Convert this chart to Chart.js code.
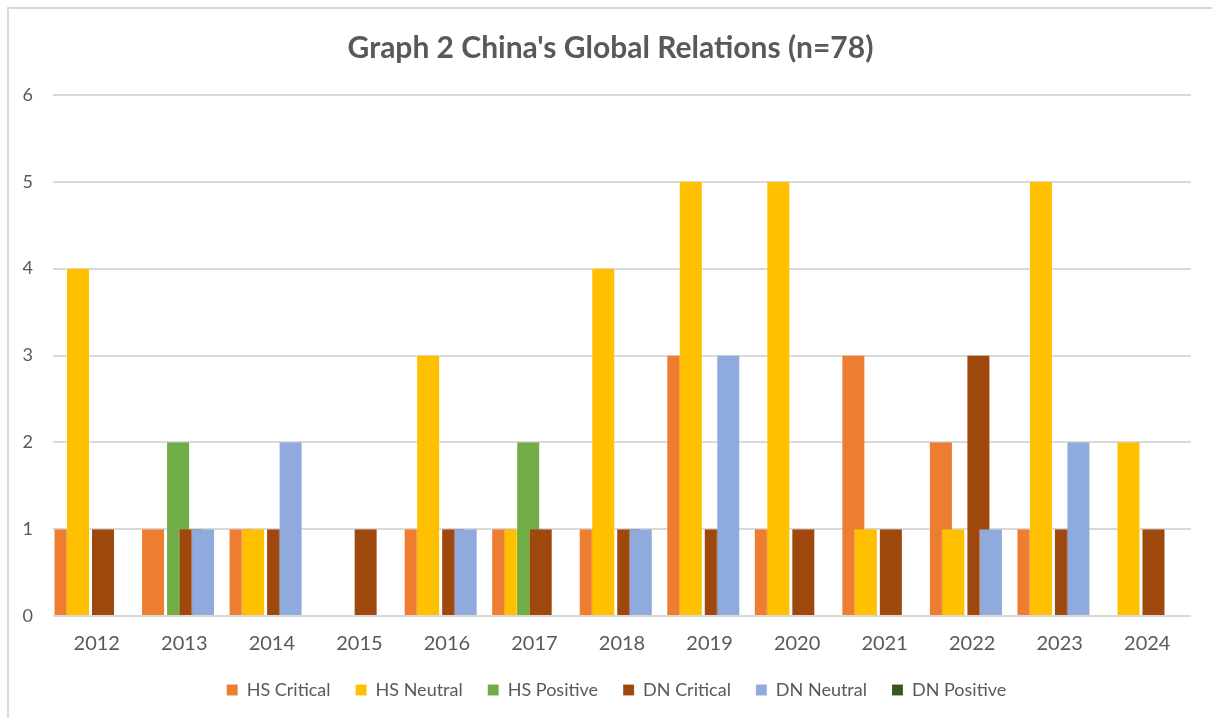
<!DOCTYPE html>
<html>
<head>
<meta charset="utf-8">
<script src="https://cdn.jsdelivr.net/npm/chart.js@4/dist/chart.umd.min.js"></script>
<style>
  html, body { margin: 0; padding: 0; background: #fff; }
  #wrap { width: 1212px; height: 718px; }
</style>
</head>
<body>
<div id="wrap"><canvas id="myChart" width="1212" height="718"></canvas></div>
<script>
// years on the x axis
const years = ['2012', '2013', '2014', '2015', '2016', '2017', '2018', '2019', '2020', '2021', '2022', '2023', '2024'];

// counts per year, one array per series
const hsCritical = [1, 1, 1, 0, 1, 1, 1, 3, 1, 3, 2, 1, 0];
const hsNeutral  = [4, 0, 1, 0, 3, 1, 4, 5, 5, 1, 1, 5, 2];
const hsPositive = [0, 2, 0, 0, 0, 2, 0, 0, 0, 0, 0, 0, 0];
const dnCritical = [1, 1, 1, 1, 1, 1, 1, 1, 1, 1, 3, 1, 1];
const dnNeutral  = [0, 1, 2, 0, 1, 0, 1, 3, 0, 0, 1, 2, 0];
const dnPositive = [0, 0, 0, 0, 0, 0, 0, 0, 0, 0, 0, 0, 0];

const yTicks = [0, 1, 2, 3, 4, 5, 6];

const grey = '#595959';
const font = 'Lato, "Open Sans", sans-serif';

function series(label, data, color) {
    return {
        label: label,
        data: data,
        backgroundColor: color,
        borderColor: 'rgba(255,255,255,0.3)',
        borderWidth: { top: 0, left: 1, right: 1, bottom: 0 },
        borderSkipped: 'bottom'
    };
}

// excel draws later series on top of earlier ones (overlapping bars)
const drawOrder = {
    id: 'drawOrder',
    beforeDatasetsDraw(chart) {
        const ctx = chart.ctx;
        const area = chart.chartArea;
        ctx.save();
        ctx.beginPath();
        ctx.rect(area.left, area.top - 2, area.right - area.left, area.bottom - area.top + 2);
        ctx.clip();
        chart.getSortedVisibleDatasetMetas().forEach(function(meta) {
            meta.controller.draw();
        });
        ctx.restore();
        return false;
    }
};

// title and legend sit centred on the whole picture, not the plot
const nudge = {
    id: 'nudge',
    afterLayout(chart) {
        chart.titleBlock.left += 15;
        chart.titleBlock.right += 15;
        chart.legend.left += 21;
        chart.legend.right += 21;
    }
};

// thin frame on the top and left, as in the screenshot
const frame = {
    id: 'frame',
    beforeDraw(chart) {
        const ctx = chart.ctx;
        ctx.save();
        ctx.fillStyle = '#fff';
        ctx.fillRect(0, 0, chart.width, chart.height);
        ctx.strokeStyle = '#d9d9d9';
        ctx.lineWidth = 2;
        ctx.beginPath();
        ctx.moveTo(8, chart.height);
        ctx.lineTo(8, 8);
        ctx.lineTo(chart.width, 8);
        ctx.stroke();
        ctx.restore();
    }
};

let ctx = document.getElementById('myChart').getContext('2d');

let myChart = new Chart(ctx, {
    type: 'bar',
    data: {
        labels: years,
        datasets: [
            series('HS Critical', hsCritical, '#ED7D31'),
            series('HS Neutral', hsNeutral, '#FFC000'),
            series('HS Positive', hsPositive, '#70AD47'),
            series('DN Critical', dnCritical, '#9E480E'),
            series('DN Neutral', dnNeutral, '#8FAADC'),
            series('DN Positive', dnPositive, '#375623')
        ]
    },
    options: {
        responsive: false,
        animation: false,
        categoryPercentage: 0.857,
        barPercentage: 1.92,
        layout: {
            padding: { left: 0, right: 21, top: 0, bottom: 9 }
        },
        plugins: {
            title: {
                display: true,
                text: "Graph 2 China's Global Relations (n=78)",
                color: grey,
                font: { family: font, size: 30, weight: 'bold' },
                padding: { top: 30, bottom: 29 }
            },
            legend: {
                position: 'bottom',
                labels: {
                    color: grey,
                    font: { family: font, size: 18 },
                    boxWidth: 11,
                    boxHeight: 11,
                    padding: 25
                }
            },
            tooltip: { enabled: false }
        },
        scales: {
            x: {
                grid: { display: false },
                border: { display: false },
                afterFit: function(scale) { scale.height -= 8; },
                ticks: {
                    color: grey,
                    font: { family: font, size: 20 },
                    padding: 8
                }
            },
            y: {
                min: 0,
                max: 6,
                afterFit: function(scale) { scale.width = 53; },
                afterBuildTicks: function(scale) {
                    scale.ticks = yTicks.map(function(v) { return { value: v }; });
                },
                grid: { color: '#d9d9d9', lineWidth: 2, drawTicks: false },
                border: { display: false },
                ticks: {
                    color: grey,
                    font: { family: font, size: 18 },
                    padding: 20
                }
            }
        }
    },
    plugins: [frame, nudge, drawOrder]
});
</script>
</body>
</html>
